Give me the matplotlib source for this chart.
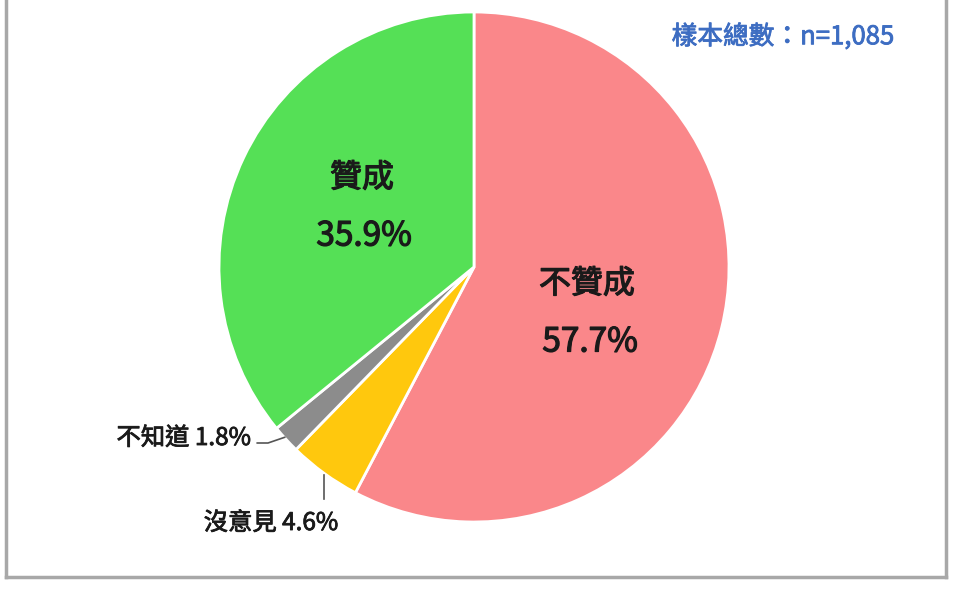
import numpy as np
import matplotlib
matplotlib.use("Agg")
import matplotlib.pyplot as plt
from matplotlib.lines import Line2D
import matplotlib.patheffects as pe

plt.rcParams['font.family'] = ['Noto Sans CJK TC', 'DejaVu Sans']

labels = ['不贊成', '沒意見', '不知道', '贊成']
values = [57.7, 4.6, 1.8, 35.9]
colors = ['#FA878A', '#FFC80D', '#8C8C8C', '#55E056']
sample_note = '樣本總數：n=1,085'

W, H = 956, 601
fig = plt.figure(figsize=(W / 100, H / 100), dpi=100)
ax = fig.add_axes([0, 0, 1, 1])

cx, cy, R = 474, H - 267, 255
wedges, _ = ax.pie(values, colors=colors, startangle=90, counterclock=False,
                   center=(cx, cy), radius=R, frame=True,
                   wedgeprops=dict(edgecolor='white', linewidth=2))
ax.set_xlim(0, W)
ax.set_ylim(0, H)
ax.set_aspect('equal')
ax.axis('off')

txt = '#1a1a1a'
big_fx = [pe.withStroke(linewidth=0.9, foreground=txt)]
small_fx = [pe.withStroke(linewidth=0.6, foreground=txt)]
# big inside labels
ax.text(362, H - 178, labels[3], ha='center', va='center', fontsize=23, color=txt, path_effects=big_fx)
ax.text(364, H - 236, f'{values[3]}%', ha='center', va='center', fontsize=24, color=txt, path_effects=big_fx)
ax.text(587, H - 284, labels[0], ha='center', va='center', fontsize=23, color=txt, path_effects=big_fx)
ax.text(590, H - 342, f'{values[0]}%', ha='center', va='center', fontsize=24, color=txt, path_effects=big_fx)

# outside labels with leader lines
def edge_point(w, r=1.0):
    ang = np.deg2rad((w.theta1 + w.theta2) / 2)
    return cx + R * r * np.cos(ang), cy + R * r * np.sin(ang)

lc = '#555555'
# 不知道
ex, ey = edge_point(wedges[2], 1.0)
ax.plot([257, 268, ex - 1], [H - 443, H - 443, ey + 2], color=lc, lw=1.2, solid_capstyle='round')
ax.text(251, H - 438, f'{labels[2]} {values[2]}%', ha='right', va='center', fontsize=17.5, color=txt, path_effects=small_fx)
# 沒意見
ex, ey = edge_point(wedges[1], 1.0)
ax.plot([ex, ex], [ey - 2, H - 499], color=lc, lw=1.2)
ax.text(271, H - 523, f'{labels[1]} {values[1]}%', ha='center', va='center', fontsize=17.5, color=txt, path_effects=small_fx)

# sample size note
blue = '#3D6DC2'
ax.text(783, H - 37, sample_note, ha='center', va='center', fontsize=18.5, color=blue,
        path_effects=[pe.withStroke(linewidth=0.6, foreground=blue)])

# frame lines
fc = '#a8a8a8'
ax.add_line(Line2D([6, 6], [H + 5, H - 577], color=fc, lw=2.5))
ax.add_line(Line2D([6, 946], [H - 577, H - 577], color=fc, lw=2.5))
ax.add_line(Line2D([946, 946], [H - 577, H + 5], color=fc, lw=2.5))

fig.savefig('out.png', dpi=100, facecolor='white')
